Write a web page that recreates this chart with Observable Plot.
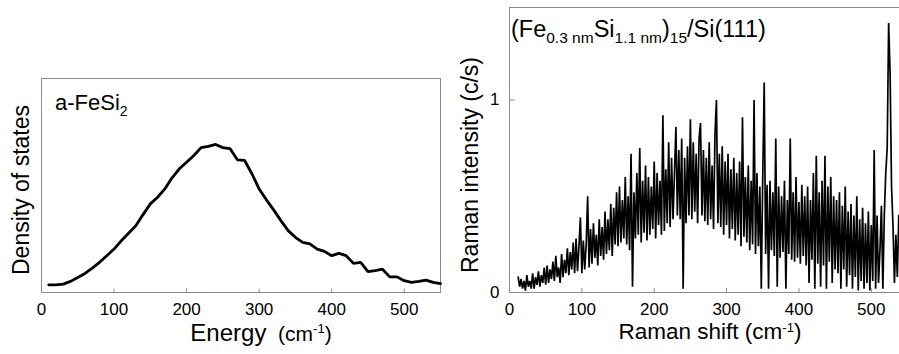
<!DOCTYPE html>
<html>
<head>
<meta charset="utf-8">
<script src="https://cdn.jsdelivr.net/npm/d3@7"></script>
<script src="https://cdn.jsdelivr.net/npm/@observablehq/plot@0.6"></script>
<style>
  html, body { margin: 0; padding: 0; background: #fff; overflow: hidden; }
  #wrap { position: relative; width: 899px; height: 354px; overflow: hidden; }
  #left { position: absolute; left: 0; top: 0; }
  #right { position: absolute; left: 450px; top: 0; }
  svg text { font-family: "Liberation Sans", Arial, sans-serif; }
</style>
</head>
<body>
<div id="wrap"><div id="left"></div><div id="right"></div></div>
<script>
// ---- Left panel: density of states of a-FeSi2 ----
const dosEnergy = [10,20,30,40,50,60,70,80,90,100,110,120,130,140,150,160,170,180,190,200,
  210,220,230,240,250,260,270,280,290,300,310,320,330,340,350,360,370,380,390,400,
  410,420,430,440,450,460,470,480,490,500,510,520,530,540,550];
const dosValues = [0.036,0.036,0.039,0.052,0.070,0.089,0.114,0.141,0.172,0.203,
  0.242,0.277,0.312,0.364,0.414,0.445,0.484,0.536,0.578,0.609,
  0.640,0.677,0.683,0.692,0.677,0.672,0.620,0.617,0.555,0.484,
  0.433,0.386,0.336,0.289,0.258,0.234,0.227,0.203,0.192,0.172,
  0.183,0.172,0.136,0.141,0.098,0.102,0.109,0.073,0.073,0.055,
  0.047,0.052,0.058,0.047,0.042];
const energyTicks = [0,100,200,300,400,500];

// ---- Right panel: Raman spectrum ----
const ramanShiftStart = 12;
const ramanShiftStep = 2;
const ramanIntensity = [
  0.08,0.03,0.07,0.02,0.06,0.01,0.09,0.03,0.06,0.02,
  0.10,0.02,0.08,0.04,0.11,0.03,0.09,0.05,0.13,0.04,
  0.14,0.05,0.12,0.07,0.16,0.06,0.19,0.08,0.13,0.05,
  0.20,0.08,0.17,0.10,0.23,0.09,0.21,0.12,0.26,0.10,
  0.28,0.11,0.24,0.39,0.10,0.27,0.12,0.25,0.50,0.13,
  0.33,0.15,0.36,0.18,0.30,0.14,0.38,0.19,0.34,0.17,
  0.42,0.20,0.38,0.22,0.46,0.19,0.44,0.25,0.52,0.24,
  0.55,0.26,0.48,0.28,0.60,0.25,0.50,0.22,0.72,0.03,
  0.52,0.28,0.62,0.30,0.75,0.26,0.58,0.31,0.66,0.27,
  0.60,0.30,0.55,0.33,0.68,0.28,0.62,0.35,0.58,0.30,
  0.92,0.32,0.64,0.36,0.78,0.34,0.70,0.38,0.62,0.86,
  0.40,0.74,0.38,0.80,0.02,0.70,0.36,0.76,0.40,0.90,
  0.38,0.78,0.42,0.72,0.36,0.80,0.88,0.40,0.74,0.37,
  0.70,0.35,0.78,0.38,0.66,0.33,0.82,1.00,0.36,0.72,
  0.34,0.76,0.30,0.68,0.35,0.72,0.28,0.64,0.33,0.70,
  0.27,0.62,0.30,0.68,0.24,0.91,0.29,0.60,0.26,0.66,
  0.22,0.58,0.25,1.00,0.20,0.62,0.24,0.55,0.02,0.60,
  1.09,0.20,0.56,0.02,0.58,0.22,0.52,0.19,0.80,0.03,
  0.55,0.18,0.50,0.21,0.58,0.02,0.48,0.20,0.80,0.17,
  0.52,0.16,0.60,0.18,0.47,0.15,0.56,0.19,0.50,0.14,
  0.55,0.05,0.48,0.17,0.62,0.02,0.71,0.15,0.52,0.03,
  0.58,0.14,0.71,0.02,0.55,0.16,0.60,0.05,0.50,0.12,
  0.48,0.10,0.52,0.02,0.45,0.12,0.55,0.03,0.42,0.09,
  0.46,0.02,0.40,0.08,0.50,0.01,0.38,0.06,0.44,0.02,
  0.36,0.05,0.42,0.01,0.35,0.06,0.74,0.02,0.40,0.05,
  0.22,0.45,0.02,0.40,0.62,0.75,1.40,1.14,0.55,0.35,
  0.05,0.30,0.08,0.40];
const shiftTicks = [0,100,200,300,400,500];
const intensityTicks = [0,1];

const FONT = '"Liberation Sans", Arial, sans-serif';
const frameColor = "#8a8a8a";

const dos = dosEnergy.map((e, i) => ({e, v: dosValues[i]}));
const raman = ramanIntensity.map((v, i) => ({s: ramanShiftStart + i * ramanShiftStep, v}));

// Left plot
const leftPlot = Plot.plot({
  width: 450, height: 354,
  marginLeft: 41, marginRight: 10, marginTop: 78, marginBottom: 62,
  style: {fontFamily: FONT, background: "white", color: "black"},
  x: {domain: [0, 550]},
  y: {domain: [0, 1]},
  marks: [
    Plot.frame({stroke: frameColor}),
    Plot.ruleX(energyTicks.filter(d => d > 0), {x: d => d, y1: 0, y2: 0.016, stroke: frameColor}),
    Plot.axisX({ticks: energyTicks, tickSize: 0, tickPadding: 10, fontSize: 17, tickFormat: d3.format("d"), label: null}),
    Plot.axisY({ticks: [], label: null}),
    Plot.line(dos, {x: "e", y: "v", stroke: "black", strokeWidth: 2.8, strokeLinejoin: "miter"})
  ]
});
document.getElementById("left").appendChild(leftPlot);

// Right plot
const rightPlot = Plot.plot({
  width: 449, height: 354,
  marginLeft: 59, marginRight: 0, marginTop: 7, marginBottom: 62,
  style: {fontFamily: FONT, background: "white", color: "black"},
  x: {domain: [0, 539]},
  y: {domain: [0, 1.48]},
  marks: [
    Plot.ruleX([0], {stroke: frameColor}),
    Plot.ruleY([0, 1.48], {stroke: frameColor}),
    Plot.ruleX(shiftTicks.filter(d => d > 0), {x: d => d, y1: 0, y2: 0.02, stroke: frameColor}),
    Plot.ruleY([1], {y: d => d, x1: 0, x2: 8, stroke: frameColor}),
    Plot.axisX({ticks: shiftTicks, tickSize: 0, tickPadding: 10, fontSize: 17, tickFormat: d3.format("d"), label: null}),
    Plot.axisY({ticks: intensityTicks, tickSize: 0, tickPadding: 10, fontSize: 17, tickFormat: d3.format("d"), label: null}),
    Plot.line(raman, {x: "s", y: "v", stroke: "black", strokeWidth: 1.7, strokeLinejoin: "bevel"})
  ]
});
document.getElementById("right").appendChild(rightPlot);

// ---- Text annotations with sub/superscripts ----
function addText(svg, {x, y, size, anchor = "start", rotate = false, parts}) {
  const t = d3.select(svg).append("text")
    .attr("font-family", FONT)
    .attr("font-size", size)
    .attr("fill", "black")
    .attr("text-anchor", anchor);
  if (rotate) t.attr("transform", `translate(${x},${y}) rotate(-90)`);
  else t.attr("x", x).attr("y", y);
  let shift = 0;
  for (const p of parts) {
    const ts = t.append("tspan").text(p.t);
    if (p.size) ts.attr("font-size", p.size);
    const target = p.dy || 0;
    if (target !== shift) { ts.attr("dy", target - shift); shift = target; }
  }
  return t;
}

// Left
addText(leftPlot, {x: 55, y: 110, size: 22, parts: [{t: "a-FeSi"}, {t: "2", size: 14, dy: 6}]});
addText(leftPlot, {x: 29, y: 190, size: 23, anchor: "middle", rotate: true, parts: [{t: "Density of states"}]});
addText(leftPlot, {x: 261, y: 341, size: 24, anchor: "middle",
  parts: [{t: "Energy"}, {t: "  (cm", size: 21}, {t: "-1", size: 13, dy: -8}, {t: ")", size: 21}]});

// Right
addText(rightPlot, {x: 61, y: 37, size: 23.5,
  parts: [{t: "(Fe"}, {t: "0.3 nm", size: 15.5, dy: 6}, {t: "Si"}, {t: "1.1 nm", size: 15.5, dy: 6}, {t: ")"},
          {t: "15", size: 15.5, dy: 6}, {t: "/Si(111)"}]});
addText(rightPlot, {x: 28, y: 165, size: 23, anchor: "middle", rotate: true, parts: [{t: "Raman intensity (c/s)"}]});
addText(rightPlot, {x: 260, y: 339, size: 22.5, anchor: "middle",
  parts: [{t: "Raman shift (cm"}, {t: "-1", size: 13, dy: -7}, {t: ")"}]});
</script>
</body>
</html>
